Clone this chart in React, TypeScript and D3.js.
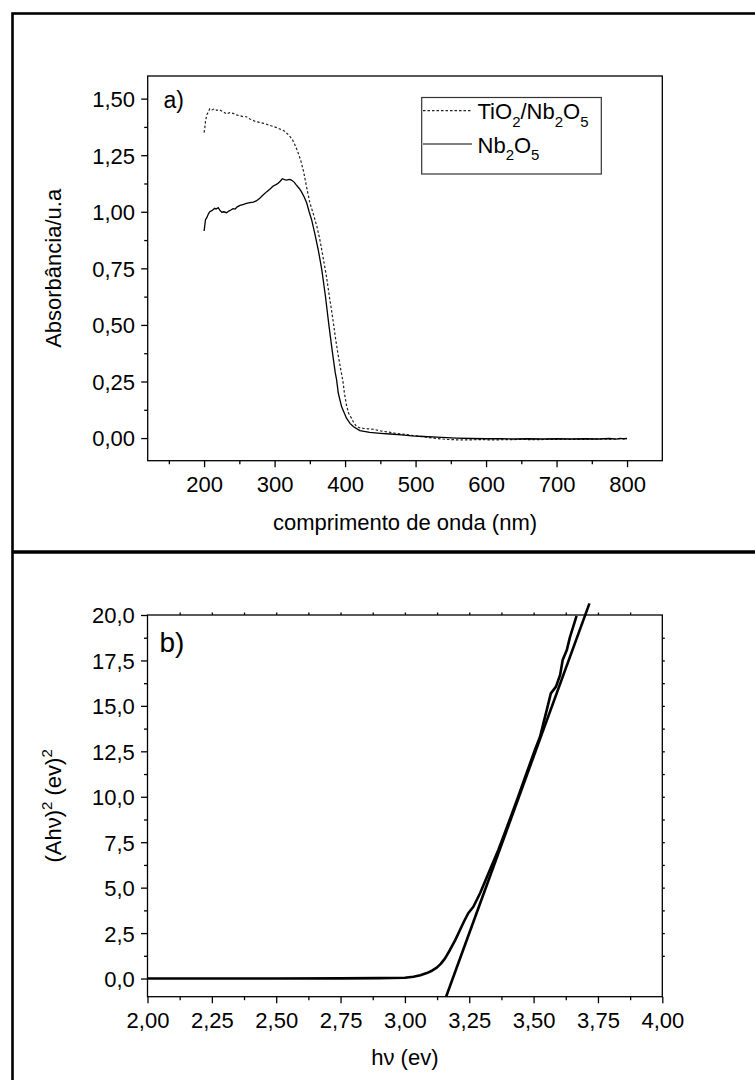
import React, { useEffect, useRef } from 'react';
import * as d3 from 'd3';

// a) absorbance spectra
const nmTiNb = [200, 201, 202, 204, 206, 208, 211, 215, 218, 222, 225, 228, 232, 236, 241, 246, 251, 256, 260, 265, 272, 279, 286, 292, 298, 303, 308, 312, 315, 318, 322, 325, 328, 331, 334, 337, 341, 346, 350, 355, 360, 364, 367, 371, 374, 378, 382, 386, 390, 394, 397, 399, 402, 405, 409, 412, 416, 420, 426, 432, 440, 450, 460, 470, 480, 490, 500, 515, 530, 545, 560, 575, 590, 610, 630, 650, 670, 690, 710, 730, 750, 765, 780, 790, 800];
const absTiNb = [1.35, 1.37, 1.40, 1.43, 1.44, 1.455, 1.45, 1.455, 1.448, 1.45, 1.445, 1.44, 1.432, 1.438, 1.435, 1.428, 1.424, 1.42, 1.42, 1.41, 1.40, 1.395, 1.39, 1.383, 1.377, 1.372, 1.365, 1.36, 1.354, 1.345, 1.332, 1.32, 1.302, 1.28, 1.255, 1.228, 1.18, 1.10, 1.04, 0.99, 0.935, 0.88, 0.83, 0.76, 0.706, 0.62, 0.54, 0.45, 0.37, 0.30, 0.25, 0.20, 0.145, 0.11, 0.088, 0.07, 0.052, 0.046, 0.043, 0.041, 0.039, 0.032, 0.027, 0.022, 0.018, 0.014, 0.01, 0.004, -0.002, -0.006, -0.008, -0.008, -0.007, -0.008, -0.007, -0.006, -0.007, -0.006, -0.005, -0.006, -0.005, -0.004, -0.005, -0.003, -0.004];

const nmNb = [200, 201, 202, 204, 206, 208, 211, 213, 215, 217, 220, 222, 225, 228, 232, 235, 238, 241, 244, 247, 251, 255, 260, 265, 270, 274, 279, 284, 289, 294, 298, 302, 305, 308, 311, 314, 317, 321, 324, 328, 331, 335, 338, 342, 345.5, 349, 352.6, 357, 362, 367, 372, 377, 382, 386, 388, 390.4, 395, 402, 407, 412, 421, 435, 450, 464, 480, 495, 511, 530, 558, 580, 600, 620, 640, 660, 680, 700, 720, 740, 760, 775, 785, 790, 795, 800];
const absNb = [0.915, 0.94, 0.965, 0.975, 0.99, 1.0, 1.005, 1.01, 1.015, 1.012, 1.018, 1.008, 0.998, 1.0, 0.996, 1.003, 1.008, 1.014, 1.012, 1.022, 1.028, 1.032, 1.037, 1.04, 1.043, 1.048, 1.06, 1.075, 1.089, 1.102, 1.114, 1.12, 1.126, 1.135, 1.146, 1.142, 1.14, 1.143, 1.14, 1.13, 1.118, 1.103, 1.089, 1.065, 1.04, 1.0, 0.964, 0.905, 0.831, 0.743, 0.63, 0.50, 0.38, 0.29, 0.257, 0.198, 0.139, 0.088, 0.065, 0.05, 0.033, 0.025, 0.021, 0.018, 0.014, 0.010, 0.007, 0.004, 0.0, -0.002, -0.003, -0.003, -0.004, -0.003, -0.004, -0.003, -0.004, -0.003, -0.004, -0.002, -0.005, -0.001, -0.003, -0.002];

// b) Tauc plot and its linear fit
const evCurve = [2.00, 2.25, 2.50, 2.75, 2.90, 3.00, 3.033, 3.06, 3.085, 3.105, 3.124, 3.14, 3.156, 3.175, 3.195, 3.214, 3.23, 3.246, 3.266, 3.292, 3.31, 3.33, 3.363, 3.385, 3.41, 3.44, 3.47, 3.505, 3.525, 3.538, 3.551, 3.567, 3.587, 3.603, 3.613, 3.629, 3.641, 3.654, 3.667];
const ahvCurve = [0, 0, 0.005, 0.01, 0.02, 0.04, 0.1, 0.18, 0.3, 0.43, 0.6, 0.82, 1.11, 1.57, 2.1, 2.67, 3.15, 3.59, 3.95, 4.69, 5.3, 5.97, 7.07, 7.9, 8.85, 10.0, 11.2, 12.57, 13.3, 14.04, 14.77, 15.69, 16.06, 16.7, 17.52, 18.07, 18.77, 19.36, 19.95];
const evFit = [3.16, 3.717];
const ahvFit = [-1, 20.64];

// ticks
const nmTicks = [200, 300, 400, 500, 600, 700, 800];
const nmMinor = [150, 250, 350, 450, 550, 650, 750];
const absTicks = [0, 0.25, 0.5, 0.75, 1.0, 1.25, 1.5];
const absMinor = [0.125, 0.375, 0.625, 0.875, 1.125, 1.375];
const evTicks = [2.0, 2.25, 2.5, 2.75, 3.0, 3.25, 3.5, 3.75, 4.0];
const evMinor = [2.125, 2.375, 2.625, 2.875, 3.125, 3.375, 3.625, 3.875];
const ahvTicks = [0, 2.5, 5, 7.5, 10, 12.5, 15, 17.5, 20];
const ahvMinor = [1.25, 3.75, 6.25, 8.75, 11.25, 13.75, 16.25, 18.75];

const FONT = '"Liberation Sans", Arial, Helvetica, sans-serif';
const comma = (n: number, digits: number) => n.toFixed(digits).replace('.', ',');

const App = () => {
    const svgRef = useRef<SVGSVGElement>(null);

    useEffect(() => {
        const svg = d3.select(svgRef.current);
        svg.selectAll('*').remove();

        // outer frame and separator
        svg.append('rect')
            .attr('x', 12.5).attr('y', 13.5)
            .attr('width', 800).attr('height', 1100)
            .attr('fill', 'none').attr('stroke', '#000').attr('stroke-width', 2.6);
        svg.append('line')
            .attr('x1', 12).attr('x2', 755).attr('y1', 552).attr('y2', 552)
            .attr('stroke', '#000').attr('stroke-width', 3.6);

        // style a d3 axis group
        const styleAxis = (g: any) => {
            g.select('.domain').remove();
            g.attr('font-family', FONT).attr('font-size', 22);
            g.selectAll('line').attr('stroke', '#000').attr('stroke-width', 1.3);
            g.selectAll('text').attr('fill', '#000');
        };

        const drawPanel = (opts: any) => {
            const { x, y, xTicks, xMinor, yTicks, yMinor, xFmt, yFmt } = opts;
            const [x0, x1] = x.range();
            const [yb, yt] = y.range();
            const g = svg.append('g');

            g.append('g')
                .attr('transform', `translate(0,${yb})`)
                .call(d3.axisBottom(x).tickValues(xTicks).tickSize(6.5).tickSizeOuter(0).tickFormat(xFmt))
                .call(styleAxis)
                .call((a: any) => a.selectAll('text').attr('y', 31).attr('dy', 0));
            g.append('g')
                .attr('transform', `translate(0,${yb})`)
                .call(d3.axisBottom(x).tickValues(xMinor).tickSize(3.5).tickSizeOuter(0).tickFormat(() => ''))
                .call(styleAxis);
            g.append('g')
                .attr('transform', `translate(${x0},0)`)
                .call(d3.axisLeft(y).tickValues(yTicks).tickSize(6.5).tickSizeOuter(0).tickFormat(yFmt))
                .call(styleAxis)
                .call((a: any) => a.selectAll('text').attr('x', -12.7).attr('dy', '0.36em'));
            g.append('g')
                .attr('transform', `translate(${x0},0)`)
                .call(d3.axisLeft(y).tickValues(yMinor).tickSize(3.5).tickSizeOuter(0).tickFormat(() => ''))
                .call(styleAxis);

            if (opts.topTicks) {
                g.append('g')
                    .attr('transform', `translate(0,${yt})`)
                    .call(d3.axisTop(x).tickValues(opts.topTicks).tickSize(2.5).tickSizeOuter(0).tickFormat(() => ''))
                    .call(styleAxis);
                g.append('g')
                    .attr('transform', `translate(${x1},0)`)
                    .call(d3.axisRight(y).tickValues(opts.rightTicks).tickSize(2.5).tickSizeOuter(0).tickFormat(() => ''))
                    .call(styleAxis);
            }

            g.append('rect')
                .attr('x', x0).attr('y', yt)
                .attr('width', x1 - x0).attr('height', yb - yt)
                .attr('fill', 'none').attr('stroke', '#000').attr('stroke-width', 1.3);
            return g;
        };

        // ---------- panel a ----------
        const xA = d3.scaleLinear().domain([120, 850]).range([147.7, 662.3]);
        const yA = d3.scaleLinear().domain([-0.1, 1.6]).range([460.7, 76]);
        const gA = drawPanel({
            x: xA, y: yA,
            xTicks: nmTicks, xMinor: nmMinor, yTicks: absTicks, yMinor: absMinor,
            xFmt: (d: number) => String(d), yFmt: (d: number) => comma(d, 2)
        });

        const lineA = d3.line<[number, number]>().x(d => xA(d[0])).y(d => yA(d[1]));
        gA.append('path')
            .attr('d', lineA(d3.zip(nmTiNb, absTiNb) as [number, number][]))
            .attr('fill', 'none').attr('stroke', '#222').attr('stroke-width', 1.2)
            .attr('stroke-dasharray', '2.5,2');
        gA.append('path')
            .attr('d', lineA(d3.zip(nmNb, absNb) as [number, number][]))
            .attr('fill', 'none').attr('stroke', '#000').attr('stroke-width', 1.3);

        gA.append('text')
            .attr('x', 163.5).attr('y', 107.5)
            .attr('font-family', FONT).attr('font-size', 23)
            .text('a)');

        // legend
        const leg = gA.append('g');
        leg.append('rect')
            .attr('x', 421.7).attr('y', 97.5).attr('width', 179.6).attr('height', 76.5)
            .attr('fill', '#fff').attr('stroke', '#333').attr('stroke-width', 1.2);
        leg.append('line')
            .attr('x1', 423).attr('x2', 472).attr('y1', 110.7).attr('y2', 110.7)
            .attr('stroke', '#222').attr('stroke-width', 1.2).attr('stroke-dasharray', '2.5,2');
        leg.append('line')
            .attr('x1', 423).attr('x2', 472).attr('y1', 144).attr('y2', 144)
            .attr('stroke', '#000').attr('stroke-width', 1.2);

        const chemLabel = (parent: any, x: number, y: number, parts: [string, boolean][]) => {
            const t = parent.append('text')
                .attr('x', x).attr('y', y)
                .attr('font-family', FONT).attr('font-size', 22).attr('fill', '#000');
            let shifted = false;
            parts.forEach(([s, sub]) => {
                const ts = t.append('tspan').text(s);
                if (sub && !shifted) { ts.attr('dy', 7.5).attr('font-size', 15); shifted = true; }
                else if (sub) { ts.attr('font-size', 15); }
                else if (!sub && shifted) { ts.attr('dy', -7.5); shifted = false; }
            });
        };
        chemLabel(leg, 477.5, 119, [['TiO', false], ['2', true], ['/Nb', false], ['2', true], ['O', false], ['5', true]]);
        chemLabel(leg, 477.5, 152.5, [['Nb', false], ['2', true], ['O', false], ['5', true]]);

        gA.append('text')
            .attr('x', (147.7 + 662.3) / 2).attr('y', 530)
            .attr('text-anchor', 'middle')
            .attr('font-family', FONT).attr('font-size', 22)
            .text('comprimento de onda (nm)');
        gA.append('text')
            .attr('transform', `translate(61,${(76 + 460.7) / 2}) rotate(-90)`)
            .attr('text-anchor', 'middle')
            .attr('font-family', FONT).attr('font-size', 22)
            .text('Absorbância/u.a');

        // ---------- panel b ----------
        const xB = d3.scaleLinear().domain([2, 4]).range([147.5, 662.3]);
        const yB = d3.scaleLinear().domain([-1, 20]).range([996.7, 615]);
        const gB = drawPanel({
            x: xB, y: yB,
            xTicks: evTicks, xMinor: evMinor, yTicks: ahvTicks, yMinor: ahvMinor,
            xFmt: (d: number) => comma(d, 2), yFmt: (d: number) => comma(d, 1),
            topTicks: [...evMinor, ...evTicks.slice(1, -1)],
            rightTicks: [...ahvMinor, ...ahvTicks.slice(1, -1)]
        });

        const lineB = d3.line<[number, number]>().x(d => xB(d[0])).y(d => yB(d[1]));
        gB.append('path')
            .attr('d', lineB(d3.zip(evCurve, ahvCurve) as [number, number][]))
            .attr('fill', 'none').attr('stroke', '#000').attr('stroke-width', 2.6)
            .attr('stroke-linejoin', 'round');
        gB.append('path')
            .attr('d', lineB(d3.zip(evFit, ahvFit) as [number, number][]))
            .attr('fill', 'none').attr('stroke', '#000').attr('stroke-width', 2.6);

        gB.append('text')
            .attr('x', 159.5).attr('y', 652)
            .attr('font-family', FONT).attr('font-size', 28)
            .text('b)');

        gB.append('text')
            .attr('x', (147.5 + 662.3) / 2).attr('y', 1065)
            .attr('text-anchor', 'middle')
            .attr('font-family', FONT).attr('font-size', 22)
            .text('hν (ev)');

        const yt = gB.append('text')
            .attr('transform', `translate(61,${(615 + 996.7) / 2}) rotate(-90)`)
            .attr('text-anchor', 'middle')
            .attr('font-family', FONT).attr('font-size', 22);
        yt.append('tspan').text('(Ahν)');
        yt.append('tspan').attr('dy', -9).attr('font-size', 15).text('2');
        yt.append('tspan').attr('dy', 9).text(' (ev)');
        yt.append('tspan').attr('dy', -9).attr('font-size', 15).text('2');
    }, []);

    return (
        <svg
            ref={svgRef}
            width={755}
            height={1080}
            style={{ position: 'absolute', left: 0, top: 0, background: '#fff' }}
        />
    );
};

export default App;
